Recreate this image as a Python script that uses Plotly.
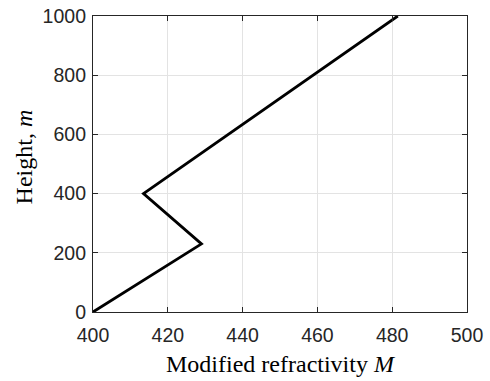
import plotly.graph_objects as go

# Modified refractivity profile (trapping layer between ~230 m and 400 m)
refractivity_M = [400, 429, 413.5, 481.5]
height_m = [0, 230, 400, 1000]

x_ticks = [400, 420, 440, 460, 480, 500]
y_ticks = [0, 200, 400, 600, 800, 1000]

axis_color = "#262626"
grid_color = "#e3e3e3"
tick_font = dict(family="Liberation Sans, Arial, Helvetica, sans-serif", size=19.5, color=axis_color)
title_font = dict(family="Liberation Serif, Times New Roman, serif", size=24, color="#000000")

fig = go.Figure()
fig.add_trace(go.Scatter(
    x=refractivity_M,
    y=height_m,
    mode="lines",
    line=dict(color="#000000", width=2.8),
    showlegend=False,
))

common = dict(
    showline=True,
    linecolor=axis_color,
    linewidth=1.2,
    mirror="allticks",
    ticks="inside",
    ticklen=5,
    tickcolor=axis_color,
    tickwidth=1,
    showgrid=True,
    gridcolor=grid_color,
    gridwidth=1,
    zeroline=False,
    tickfont=tick_font,
)

fig.update_xaxes(
    range=[400, 500],
    tickvals=x_ticks,
    ticktext=[str(v) for v in x_ticks],
    ticklabelstandoff=5,
    title=dict(text="Modified refractivity <i>M</i>", font=title_font, standoff=10),
    **common,
)
fig.update_yaxes(
    range=[0, 1000],
    tickvals=y_ticks,
    ticktext=[str(v) for v in y_ticks],
    ticklabelstandoff=2,
    **common,
)

# Vertical axis label, placed as a rotated annotation
fig.add_annotation(
    text="Height, <i>m</i>",
    font=title_font,
    textangle=-90,
    xref="paper", yref="paper",
    x=-0.185, y=0.525,
    xanchor="center", yanchor="middle",
    showarrow=False,
)

fig.update_layout(
    width=490,
    height=381,
    margin=dict(l=93, r=23, t=16, b=69, autoexpand=False),
    paper_bgcolor="#ffffff",
    plot_bgcolor="#ffffff",
)

fig.write_html("out.html")
